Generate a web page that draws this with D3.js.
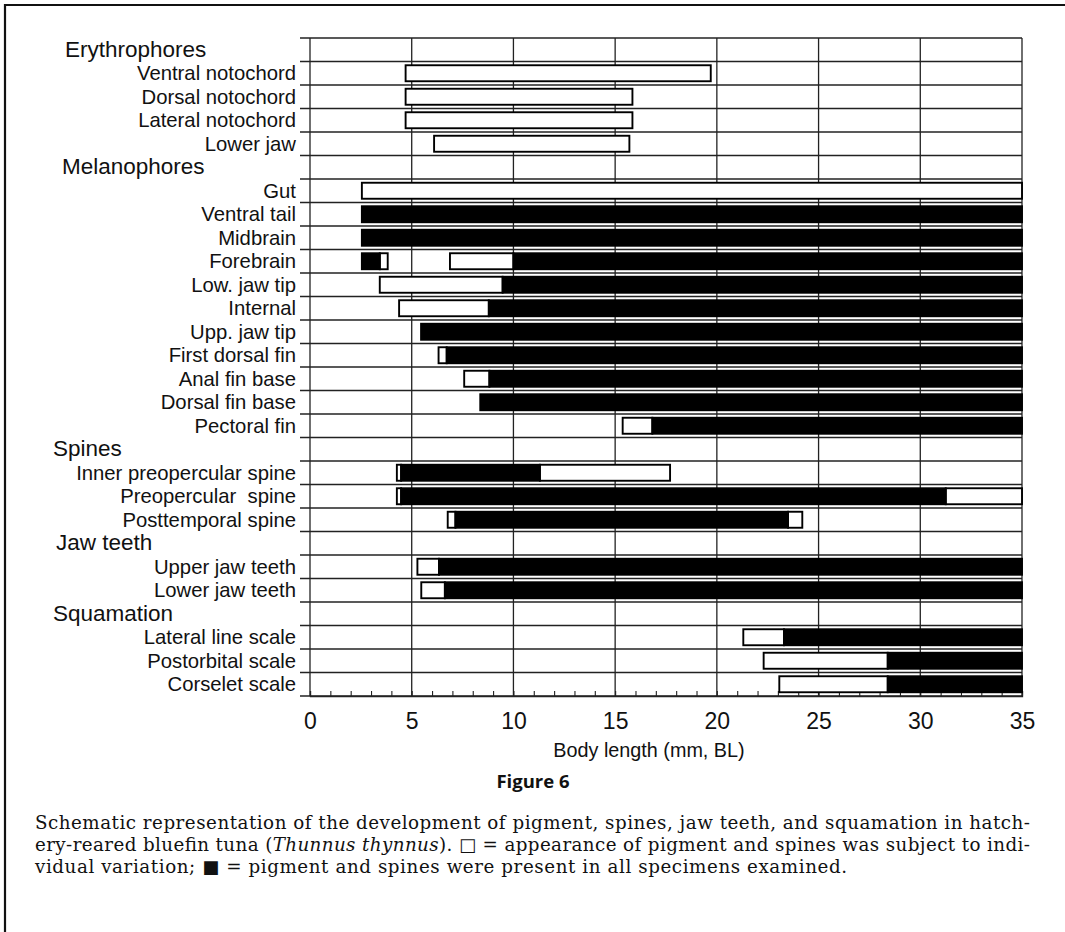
<!DOCTYPE html>
<html>
<head>
<meta charset="utf-8">
<script src="https://cdn.jsdelivr.net/npm/d3@7/dist/d3.min.js"></script>
<style>
  html, body { margin: 0; padding: 0; background: #fff; }
  svg { display: block; }
</style>
</head>
<body>
<svg id="chart" width="1065" height="932"></svg>
<script>
// ---------------- DATA ----------------
const rowLabels = [
  "Erythrophores", "Ventral notochord", "Dorsal notochord", "Lateral notochord", "Lower jaw",
  "Melanophores", "Gut", "Ventral tail", "Midbrain", "Forebrain", "Low. jaw tip", "Internal",
  "Upp. jaw tip", "First dorsal fin", "Anal fin base", "Dorsal fin base", "Pectoral fin",
  "Spines", "Inner preopercular spine", "Preopercular  spine", "Posttemporal spine",
  "Jaw teeth", "Upper jaw teeth", "Lower jaw teeth",
  "Squamation", "Lateral line scale", "Postorbital scale", "Corselet scale"
];
const groupHeaders = ["Erythrophores", "Melanophores", "Spines", "Jaw teeth", "Squamation"];
const xTickValues = [0, 5, 10, 15, 20, 25, 30, 35];
const xMinorTicks = d3.range(0, 36, 1);
const xAxisTitle = "Body length (mm, BL)";

// open boxes: appearance subject to individual variation [row, from, to]
const variableSpans = [
  ["Ventral notochord", 4.7, 19.7],
  ["Dorsal notochord", 4.7, 15.85],
  ["Lateral notochord", 4.7, 15.85],
  ["Lower jaw", 6.1, 15.7],
  ["Gut", 2.55, 35],
  ["Forebrain", 3.43, 3.82],
  ["Forebrain", 6.88, 10.0],
  ["Low. jaw tip", 3.43, 9.47],
  ["Internal", 4.38, 8.79],
  ["First dorsal fin", 6.32, 6.72],
  ["Anal fin base", 7.58, 8.82],
  ["Pectoral fin", 15.37, 16.83],
  ["Inner preopercular spine", 4.27, 4.48],
  ["Inner preopercular spine", 11.3, 17.7],
  ["Preopercular  spine", 4.27, 4.48],
  ["Preopercular  spine", 31.25, 35],
  ["Posttemporal spine", 6.77, 7.15],
  ["Posttemporal spine", 23.5, 24.2],
  ["Upper jaw teeth", 5.28, 6.34],
  ["Lower jaw teeth", 5.47, 6.63],
  ["Lateral line scale", 21.3, 23.3],
  ["Postorbital scale", 22.3, 28.4],
  ["Corselet scale", 23.07, 28.4]
];
// filled boxes: present in all specimens [row, from, to]
const constantSpans = [
  ["Ventral tail", 2.55, 35],
  ["Midbrain", 2.55, 35],
  ["Forebrain", 2.55, 3.43],
  ["Forebrain", 10.0, 35],
  ["Low. jaw tip", 9.47, 35],
  ["Internal", 8.79, 35],
  ["Upp. jaw tip", 5.46, 35],
  ["First dorsal fin", 6.72, 35],
  ["Anal fin base", 8.82, 35],
  ["Dorsal fin base", 8.37, 35],
  ["Pectoral fin", 16.83, 35],
  ["Inner preopercular spine", 4.48, 11.3],
  ["Preopercular  spine", 4.48, 31.25],
  ["Posttemporal spine", 7.15, 23.5],
  ["Upper jaw teeth", 6.34, 35],
  ["Lower jaw teeth", 6.63, 35],
  ["Lateral line scale", 23.3, 35],
  ["Postorbital scale", 28.4, 35],
  ["Corselet scale", 28.4, 35]
];

const figureTitle = "Figure 6";
const captionLines = [
  [{t: "Schematic representation of the development of pigment, spines, jaw teeth, and squamation in hatch-"}],
  [{t: "ery-reared bluefin tuna ("}, {t: "Thunnus thynnus", i: true}, {t: "). "}, {t: "\u25A1", sq: true}, {t: " = appearance of pigment and spines was subject to indi-"}],
  [{t: "vidual variation; "}, {t: "\u25A0", sq: true}, {t: " = pigment and spines were present in all specimens examined."}]
];

// ---------------- LAYOUT ----------------
const svg = d3.select("#chart");
const plot = {left: 310, right: 1022, top: 38, bottom: 696};
const headerX = {"Erythrophores": 65, "Melanophores": 62, "Spines": 53, "Jaw teeth": 56, "Squamation": 53};
const sans = "'Liberation Sans', Arial, Helvetica, sans-serif";
const ink = "#111";

const x = d3.scaleLinear().domain([0, 35]).range([plot.left, plot.right]);
const y = d3.scaleBand().domain(rowLabels).range([plot.top, plot.bottom]).padding(0);
const barH = 16;

// page border (left + top)
svg.append("path")
  .attr("d", `M5,932 L5,5 L1065,5`)
  .attr("fill", "none").attr("stroke", "#111").attr("stroke-width", 2.2);

// horizontal row lines (extend slightly left of axis)
const bounds = rowLabels.map(r => y(r)).concat([plot.bottom]);
svg.append("g").selectAll("line").data(bounds).join("line")
  .attr("x1", plot.left - 10).attr("x2", plot.right)
  .attr("y1", d => d).attr("y2", d => d)
  .attr("stroke", "#222").attr("stroke-width", 1.3);

// vertical grid lines
svg.append("g").selectAll("line").data(xTickValues).join("line")
  .attr("x1", d => x(d)).attr("x2", d => x(d))
  .attr("y1", plot.top).attr("y2", plot.bottom)
  .attr("stroke", "#222").attr("stroke-width", 1.3);

// minor ticks along the axis (pointing up)
const minorAxis = d3.axisTop(x).tickValues(xMinorTicks).tickSize(5).tickFormat("");
const gMinor = svg.append("g").attr("transform", `translate(0,${plot.bottom})`).call(minorAxis);
gMinor.select(".domain").attr("stroke", "#222").attr("stroke-width", 1.3);
gMinor.selectAll(".tick line").attr("stroke", "#222").attr("stroke-width", 1.1);

// major tick labels
const majorAxis = d3.axisBottom(x).tickValues(xTickValues).tickSize(0).tickPadding(0).tickFormat(d3.format("d"));
const gMajor = svg.append("g").attr("transform", `translate(0,${plot.bottom})`).call(majorAxis);
gMajor.select(".domain").remove();
gMajor.selectAll(".tick text")
  .attr("dy", null).attr("y", 33)
  .style("font-family", sans).style("font-size", "23px").attr("fill", ink);

// axis title
svg.append("text")
  .attr("x", 649).attr("y", 757).attr("text-anchor", "middle")
  .style("font-family", sans).style("font-size", "19.8px").attr("fill", ink)
  .text(xAxisTitle);

// row labels
svg.append("g").selectAll("text").data(rowLabels).join("text")
  .attr("x", d => groupHeaders.includes(d) ? headerX[d] : 296)
  .attr("y", d => y(d) + y.bandwidth() / 2 + 7)
  .attr("text-anchor", d => groupHeaders.includes(d) ? "start" : "end")
  .style("font-family", sans)
  .style("font-size", d => groupHeaders.includes(d) ? "22.5px" : "20.3px")
  .style("white-space", "pre")
  .attr("xml:space", "preserve")
  .attr("fill", ink)
  .text(d => d);

// bars
const barG = svg.append("g");
function drawSpans(data, fill) {
  barG.append("g").selectAll("rect").data(data).join("rect")
    .attr("x", d => x(d[1]))
    .attr("y", d => y(d[0]) + (y.bandwidth() - barH) / 2)
    .attr("width", d => x(d[2]) - x(d[1]))
    .attr("height", barH)
    .attr("fill", fill)
    .attr("stroke", "#000").attr("stroke-width", 1.9);
}
drawSpans(variableSpans, "#fff");
drawSpans(constantSpans, "#000");

// figure title
svg.append("text")
  .attr("x", 533).attr("y", 788).attr("text-anchor", "middle")
  .style("font-family", "'Open Sans', 'Noto Sans', sans-serif")
  .style("font-weight", "700").style("font-size", "18.5px").attr("fill", ink)
  .text(figureTitle);

// caption
const capX = 35, capBase = [829, 851, 873], capWidth = [995, 995, 812];
const serif = "'DejaVu Serif', 'Liberation Serif', serif";
captionLines.forEach((parts, i) => {
  const t = svg.append("text")
    .attr("x", capX).attr("y", capBase[i])
    .attr("textLength", capWidth[i]).attr("lengthAdjust", "spacing")
    .style("font-family", serif).style("font-size", "18.3px").attr("fill", ink)
    .attr("xml:space", "preserve");
  parts.forEach(p => {
    const ts = t.append("tspan").text(p.t);
    if (p.i) ts.style("font-style", "italic");
    if (p.sq) ts.style("font-family", "'DejaVu Sans', sans-serif").style("font-size", "18px");
  });
});
</script>
</body>
</html>
